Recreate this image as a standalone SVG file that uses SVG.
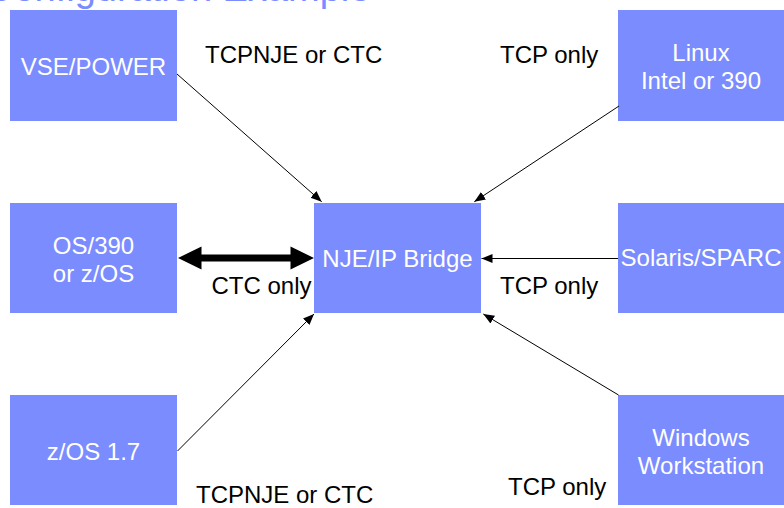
<svg xmlns="http://www.w3.org/2000/svg" width="784" height="508" viewBox="0 0 784 508">
  <style>
    .box { fill: #7b8cff; }
    .nt { font-family: "Liberation Sans", Arial, sans-serif; font-size: 24px; fill: #ffffff; text-anchor: middle; }
    .lbl { font-family: "Liberation Sans", Arial, sans-serif; font-size: 24px; fill: #000000; }
    .title { font-family: "Liberation Sans", Arial, sans-serif; font-size: 38px; fill: #7b8cff; }
    .conn { stroke: #000000; stroke-width: 1; fill: none; marker-end: url(#ah); }
  </style>
  <defs>
    <marker id="ah" markerUnits="userSpaceOnUse" markerWidth="12" markerHeight="10" refX="11" refY="4.5" orient="auto">
      <path d="M0,0 L11,4.5 L0,9 Z" fill="#000000"/>
    </marker>
  </defs>
  <rect width="784" height="508" fill="#ffffff"/>
  <text class="title" x="-14" y="1">Configuration Example</text>

  <g id="vse">
    <rect class="box" x="10" y="10" width="167" height="111"/>
    <text class="nt" x="93.5" y="75">VSE/POWER</text>
  </g>
  <g id="linux">
    <rect class="box" x="618" y="10" width="166" height="111"/>
    <text class="nt" x="701" y="61">Linux</text>
    <text class="nt" x="701" y="89">Intel or 390</text>
  </g>
  <g id="os390">
    <rect class="box" x="10" y="203" width="167" height="110"/>
    <text class="nt" x="93.5" y="254">OS/390</text>
    <text class="nt" x="93.5" y="282">or z/OS</text>
  </g>
  <g id="bridge">
    <rect class="box" x="314" y="203" width="167" height="110"/>
    <text class="nt" x="397.5" y="267">NJE/IP Bridge</text>
  </g>
  <g id="solaris">
    <rect class="box" x="618" y="203" width="166" height="110"/>
    <text class="nt" x="701" y="266">Solaris/SPARC</text>
  </g>
  <g id="zos17">
    <rect class="box" x="10" y="395" width="167" height="110"/>
    <text class="nt" x="93.5" y="460">z/OS 1.7</text>
  </g>
  <g id="windows">
    <rect class="box" x="618" y="395" width="166" height="110"/>
    <text class="nt" x="701" y="446">Windows</text>
    <text class="nt" x="701" y="474">Workstation</text>
  </g>

  <g id="connectors">
    <line class="conn" x1="177" y1="74" x2="321.7" y2="201.7"/>
    <line class="conn" x1="619" y1="106" x2="474.3" y2="201.7"/>
    <line class="conn" x1="618" y1="258.5" x2="481.5" y2="258.5"/>
    <line class="conn" x1="177.5" y1="451" x2="314" y2="314"/>
    <line class="conn" x1="618.5" y1="395" x2="483.3" y2="314"/>
    <polygon points="178,258 201.5,246.5 201.5,254.5 290.5,254.5 290.5,246.5 314,258 290.5,269.5 290.5,261.5 201.5,261.5 201.5,269.5" fill="#000000"/>
  </g>

  <g id="labels">
    <text class="lbl" x="205" y="63">TCPNJE or CTC</text>
    <text class="lbl" x="500" y="63">TCP only</text>
    <text class="lbl" x="211.5" y="294">CTC only</text>
    <text class="lbl" x="500" y="294">TCP only</text>
    <text class="lbl" x="196" y="503">TCPNJE or CTC</text>
    <text class="lbl" x="508" y="495">TCP only</text>
  </g>
</svg>
